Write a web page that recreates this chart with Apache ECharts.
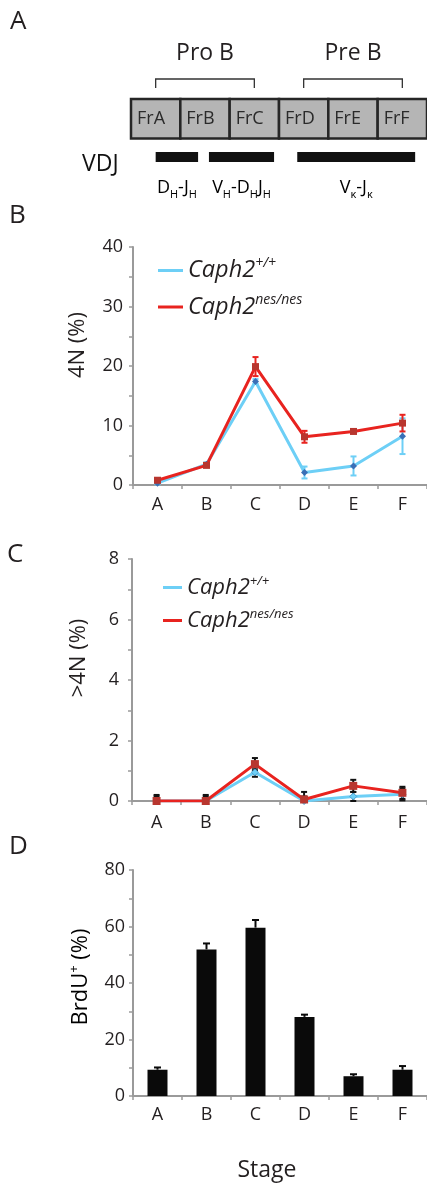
<!DOCTYPE html>
<html><head><meta charset="utf-8">
<script src="https://cdn.jsdelivr.net/npm/echarts@6/dist/echarts.min.js"></script>
<style>html,body{margin:0;padding:0;background:#fff}#c{width:427px;height:1189px}</style>
</head><body><div id="c"></div>
<script>
// ---------- data ----------
const stages = ['A', 'B', 'C', 'D', 'E', 'F'];
const fractions = ['FrA', 'FrB', 'FrC', 'FrD', 'FrE', 'FrF'];
const groupNames = ['Pro B', 'Pre B'];
const groupStart = [0, 3];
const groupEnd = [2, 5];
const vdjLabels = ['{m|D}{s|H}{m|-J}{s|H}', '{m|V}{s|H}{m|-D}{s|H}{m|J}{s|H}', '{m|V}{s|κ}{m|-J}{s|κ}'];
const vdjStart = [0.0, 1.08, 2.87];
const vdjEnd = [0.86, 2.4, 5.26];

const seriesNames = ['Caph2+/+', 'Caph2nes/nes'];
const fourNWt = [0.3, 3.5, 17.4, 2.1, 3.2, 8.2];
const fourNWtErr = [0.2, 0.3, 0.4, 1.0, 1.6, 3.0];
const fourNNes = [0.8, 3.3, 19.9, 8.1, 9.0, 10.4];
const fourNNesErr = [0.3, 0.3, 1.6, 1.0, 0.3, 1.4];
const gt4NWt = [0, 0, 0.95, 0, 0.15, 0.22];
const gt4NWtErr = [0.15, 0.15, 0.15, 0.15, 0.15, 0.2];
const gt4NNes = [0, 0, 1.22, 0.05, 0.5, 0.27];
const gt4NNesErr = [0.2, 0.2, 0.2, 0.25, 0.2, 0.2];
const brdu = [9.3, 51.9, 59.6, 28.0, 7.0, 9.3];
const brduErr = [0.8, 2.1, 2.7, 0.8, 0.7, 1.3];

const ticksB = [0, 10, 20, 30, 40];
const ticksC = [0, 2, 4, 6, 8];
const ticksD = [0, 20, 40, 60, 80];

// ---------- style ----------
const FONT = 'Open Sans';
const TXT = '#231f20';
const AX = '#9a9a9a';
const BLUE = '#6dcff6';
const BLUE_DARK = '#3a6fb6';
const RED = '#e8231f';
const RED_DARK = '#b8362f';

const chart = echarts.init(document.getElementById('c'), null, {renderer: 'canvas'});

function yAxisFor(grid, ticks, margin) {
  const step = (ticks[1] - ticks[0]) / 2;
  return {
    type: 'value', gridIndex: grid, min: ticks[0], max: ticks[ticks.length - 1], interval: step,
    splitLine: {show: false},
    axisLine: {show: true, lineStyle: {color: AX, width: 2}},
    axisTick: {show: true, inside: false, length: 4, lineStyle: {color: AX, width: 1.5}},
    axisLabel: {margin: margin, fontFamily: FONT, fontSize: 18, color: TXT,
      formatter: v => ticks.indexOf(v) >= 0 ? String(v) : ''}
  };
}
function xAxisFor(grid, margin) {
  return {
    type: 'category', gridIndex: grid, data: stages, boundaryGap: true,
    axisLine: {show: true, lineStyle: {color: AX, width: 2}},
    axisTick: {show: true, inside: false, length: 4, lineStyle: {color: AX, width: 1.5}},
    axisLabel: {margin: margin, fontFamily: FONT, fontSize: 18, color: TXT}
  };
}
function errRender(color, capW, upOnly) {
  return function (params, api) {
    const i = api.value(0), v = api.value(1), e = api.value(2);
    const lo = upOnly ? v : Math.max(0, v - e);
    const p1 = api.coord([i, v + e]);
    const p0 = api.coord([i, lo]);
    const st = {stroke: color, lineWidth: 2};
    const ch = [
      {type: 'line', shape: {x1: p1[0], y1: p1[1], x2: p0[0], y2: p0[1]}, style: st},
      {type: 'line', shape: {x1: p1[0] - capW / 2, y1: p1[1], x2: p1[0] + capW / 2, y2: p1[1]}, style: st}
    ];
    if (!upOnly) ch.push({type: 'line', shape: {x1: p0[0] - capW / 2, y1: p0[1], x2: p0[0] + capW / 2, y2: p0[1]}, style: st});
    return {type: 'group', children: ch};
  };
}
function errSeries(grid, vals, errs, color, capW, upOnly) {
  return {
    type: 'custom', xAxisIndex: grid, yAxisIndex: grid, silent: true, z: 3,
    data: stages.map((s, i) => [i, vals[i], errs[i]]),
    encode: {x: 0, y: 1},
    renderItem: errRender(color, capW, upOnly)
  };
}
function legendFor(left, top, itemW, gap, mainSize, supSize, lh) {
  return {
    orient: 'vertical', left: left, top: top, itemWidth: itemW, itemHeight: 3, itemGap: gap,
    selectedMode: false,
    data: [
      {name: seriesNames[0], icon: 'rect', itemStyle: {color: BLUE}},
      {name: seriesNames[1], icon: 'rect', itemStyle: {color: RED}}
    ],
    formatter: n => '{m|' + n.slice(0, 5) + '}{s|' + n.slice(5) + '}',
    textStyle: {
      rich: {
        m: {fontSize: mainSize, fontStyle: 'italic', fontFamily: FONT, color: TXT, lineHeight: lh},
        s: {fontSize: supSize, fontStyle: 'italic', fontFamily: FONT, color: TXT, verticalAlign: 'top', lineHeight: supSize}
      }
    }
  };
}

const A_CELL_TOP = 99, A_CELL_H = 39.5;

const option = {
  animation: false,
  backgroundColor: '#fff',
  grid: [
    {left: 131, top: 40, width: 296, height: 150},
    {left: 133, top: 247, width: 294, height: 238},
    {left: 132, top: 559, width: 299, height: 242},
    {left: 133, top: 870, width: 295, height: 226}
  ],
  xAxis: [
    {type: 'value', gridIndex: 0, min: -0.5, max: 5.5, show: false},
    xAxisFor(1, 11),
    xAxisFor(2, 13),
    xAxisFor(3, 10)
  ],
  yAxis: [
    {type: 'value', gridIndex: 0, min: 0, max: 1, show: false},
    yAxisFor(1, ticksB, 10),
    yAxisFor(2, ticksC, 13),
    yAxisFor(3, ticksD, 8)
  ],
  legend: [
    legendFor(153, 251.5, 25, 11, 23.5, 14, 28),
    legendFor(158, 569.5, 19, 9, 22, 13, 26)
  ],
  graphic: [
    {type: 'text', left: 10, top: 9, style: {text: 'A', font: '26px "Open Sans"', fill: TXT}},
    {type: 'text', left: 9, top: 203, style: {text: 'B', font: '26px "Open Sans"', fill: TXT}},
    {type: 'text', left: 7, top: 542, style: {text: 'C', font: '26px "Open Sans"', fill: TXT}},
    {type: 'text', left: 9, top: 834, style: {text: 'D', font: '26px "Open Sans"', fill: TXT}},
    {type: 'text', x: 82, y: 164, style: {text: 'VDJ', font: '23px "Open Sans"', fill: '#111', verticalAlign: 'middle'}},
    {type: 'text', x: 78, y: 345, rotation: Math.PI / 2,
      style: {text: '4N (%)', font: '22px "Open Sans"', fill: TXT, align: 'center', verticalAlign: 'middle'}},
    {type: 'text', x: 79, y: 658, rotation: Math.PI / 2,
      style: {text: '>4N (%)', font: '22px "Open Sans"', fill: TXT, align: 'center', verticalAlign: 'middle'}},
    {type: 'text', x: 81, y: 977, rotation: Math.PI / 2,
      style: {text: '{m|BrdU}{s|+}{m| (%)}', align: 'center', verticalAlign: 'middle',
        rich: {m: {fontSize: 22, fontFamily: FONT, color: TXT, lineHeight: 26},
               s: {fontSize: 13, fontFamily: FONT, color: TXT, verticalAlign: 'top', lineHeight: 13}}}},
    {type: 'text', x: 267, y: 1170, style: {text: 'Stage', font: '23px "Open Sans"', fill: TXT, align: 'center', verticalAlign: 'middle'}}
  ],
  series: [
    // Panel A: fraction cells
    {
      type: 'custom', xAxisIndex: 0, yAxisIndex: 0, silent: true,
      data: fractions.map((f, i) => [i, 0]),
      encode: {x: 0, y: 1},
      renderItem: (params, api) => {
        const c = api.coord([api.value(0), 0]);
        const w = api.size([1, 0])[0];
        const x0 = c[0] - w / 2;
        return {type: 'group', children: [
          {type: 'rect', shape: {x: x0, y: A_CELL_TOP, width: w, height: A_CELL_H},
            style: {fill: '#b5b5b5', stroke: '#262626', lineWidth: 2.5}},
          {type: 'text', style: {x: x0 + 6, y: A_CELL_TOP + A_CELL_H / 2, text: fractions[params.dataIndex],
            font: '18px "Open Sans"', fill: '#2a2a2a', align: 'left', verticalAlign: 'middle'}}
        ]};
      }
    },
    // Panel A: Pro B / Pre B brackets
    {
      type: 'custom', xAxisIndex: 0, yAxisIndex: 0, silent: true,
      data: groupNames.map((g, i) => [groupStart[i], groupEnd[i]]),
      encode: {x: [0, 1], y: 1},
      renderItem: (params, api) => {
        const a = api.coord([api.value(0), 0])[0];
        const b = api.coord([api.value(1), 0])[0];
        const st = {stroke: '#333', lineWidth: 1.3, fill: null};
        return {type: 'group', children: [
          {type: 'polyline', shape: {points: [[a, 88], [a, 79], [b, 79], [b, 88]]}, style: st},
          {type: 'text', style: {x: (a + b) / 2, y: 53, text: groupNames[params.dataIndex],
            font: '23px "Open Sans"', fill: TXT, align: 'center', verticalAlign: 'middle'}}
        ]};
      }
    },
    // Panel A: VDJ recombination bars
    {
      type: 'custom', xAxisIndex: 0, yAxisIndex: 0, silent: true,
      data: vdjLabels.map((l, i) => [vdjStart[i], vdjEnd[i]]),
      encode: {x: [0, 1], y: 1},
      renderItem: (params, api) => {
        const a = api.coord([api.value(0), 0])[0];
        const b = api.coord([api.value(1), 0])[0];
        return {type: 'group', children: [
          {type: 'rect', shape: {x: a, y: 152, width: b - a, height: 10}, style: {fill: '#111'}},
          {type: 'text', style: {x: (a + b) / 2, y: 188, text: vdjLabels[params.dataIndex],
            align: 'center', verticalAlign: 'middle',
            rich: {m: {fontSize: 18, fontFamily: FONT, color: TXT, lineHeight: 24},
                   s: {fontSize: 11, fontFamily: FONT, color: TXT, verticalAlign: 'bottom', lineHeight: 10}}}}
        ]};
      }
    },
    // Panel B
    {name: seriesNames[0], type: 'line', xAxisIndex: 1, yAxisIndex: 1, data: fourNWt,
      symbol: 'diamond', symbolSize: 7, showAllSymbol: true,
      itemStyle: {color: BLUE_DARK}, lineStyle: {color: BLUE, width: 3}},
    {name: seriesNames[1], type: 'line', xAxisIndex: 1, yAxisIndex: 1, data: fourNNes,
      symbol: 'rect', symbolSize: 7, showAllSymbol: true,
      itemStyle: {color: RED_DARK}, lineStyle: {color: RED, width: 3}},
    errSeries(1, fourNWt, fourNWtErr, BLUE, 6, false),
    errSeries(1, fourNNes, fourNNesErr, RED, 6, false),
    // Panel C
    {name: seriesNames[0], type: 'line', xAxisIndex: 2, yAxisIndex: 2, data: gt4NWt,
      symbol: 'diamond', symbolSize: 7, showAllSymbol: true,
      itemStyle: {color: BLUE, borderColor: '#4a9fd0', borderWidth: 1}, lineStyle: {color: BLUE, width: 3}},
    {name: seriesNames[1], type: 'line', xAxisIndex: 2, yAxisIndex: 2, data: gt4NNes,
      symbol: 'rect', symbolSize: 8, showAllSymbol: true,
      itemStyle: {color: RED_DARK}, lineStyle: {color: RED, width: 3}},
    errSeries(2, gt4NWt, gt4NWtErr, '#111', 6, false),
    errSeries(2, gt4NNes, gt4NNesErr, '#111', 6, false),
    // Panel D
    {type: 'bar', xAxisIndex: 3, yAxisIndex: 3, data: brdu, barWidth: 20,
      itemStyle: {color: '#0a0a0a'}},
    errSeries(3, brdu, brduErr, '#0a0a0a', 7, true)
  ]
};
chart.setOption(option);
</script>
</body></html>
